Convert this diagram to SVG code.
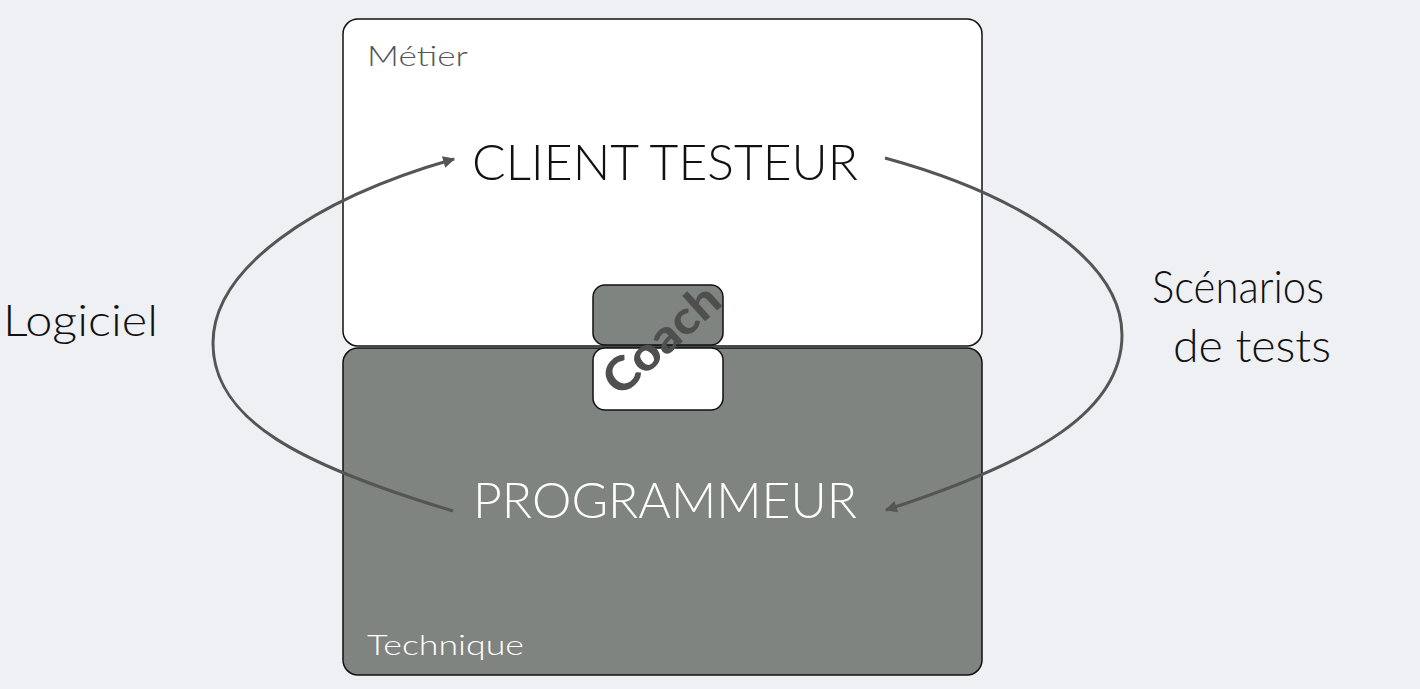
<svg xmlns="http://www.w3.org/2000/svg" width="1420" height="689" viewBox="0 0 1420 689">
  <defs>
    <style>
      .box { stroke: #111; stroke-width: 1.5; }
      .white { fill: #ffffff; }
      .grey { fill: #7f8481; }
      .t { font-family: Lato, "Open Sans", "Liberation Sans", sans-serif; font-weight: 300; }
      .conn { fill: none; stroke: #555; stroke-width: 3; }
    </style>
    <marker id="ah" viewBox="0 0 10 10" refX="9" refY="5" markerWidth="5" markerHeight="4" orient="auto" markerUnits="strokeWidth">
      <path d="M0,0 L10,5 L0,10 z" fill="#555"/>
    </marker>
  </defs>
  <rect width="1420" height="689" fill="#eef0f3"/>

  <g id="metier">
    <rect class="box white" x="343" y="19" width="639" height="327" rx="15"/>
    <text class="t" x="367" y="66" font-size="28" fill="#555" textLength="101" lengthAdjust="spacingAndGlyphs">Métier</text>
  </g>
  <g id="technique">
    <rect class="box grey" x="343" y="348" width="639" height="327" rx="15"/>
    <text class="t" x="367" y="655" font-size="28" fill="#fff" textLength="157" lengthAdjust="spacingAndGlyphs">Technique</text>
  </g>
  <g id="client">
    <text class="t" x="472" y="180" font-size="49" fill="#111" textLength="386" lengthAdjust="spacingAndGlyphs">CLIENT TESTEUR</text>
  </g>
  <g id="programmeur">
    <text class="t" x="473" y="518" font-size="49" fill="#fff" textLength="384" lengthAdjust="spacingAndGlyphs">PROGRAMMEUR</text>
  </g>
  <g id="coach">
    <rect class="box grey" x="593" y="285" width="130" height="60" rx="12"/>
    <rect class="box white" x="593" y="348" width="130" height="62" rx="12"/>
    <text x="0" y="15" transform="translate(662,340) rotate(-42)" text-anchor="middle" font-family="Lato, 'Open Sans', 'Liberation Sans', sans-serif" font-weight="900" font-size="46" fill="#4f4f4f" textLength="140" lengthAdjust="spacingAndGlyphs">Coach</text>
  </g>
  <g id="logiciel">
    <text class="t" x="3" y="336" font-size="44" fill="#111" textLength="155" lengthAdjust="spacingAndGlyphs">Logiciel</text>
  </g>
  <g id="scenarios">
    <text class="t" x="1152" y="303" font-size="45" fill="#111" textLength="172" lengthAdjust="spacingAndGlyphs">Scénarios</text>
    <text class="t" x="1173" y="362" font-size="45" fill="#111" textLength="158" lengthAdjust="spacingAndGlyphs">de tests</text>
  </g>

  <g id="connectors">
    <path class="conn" marker-end="url(#ah)" d="M453,511 C300,465 213,420 213,343 C213,270 310,200 454,159"/>
    <path class="conn" marker-end="url(#ah)" d="M885,158 C1020,195 1122,260 1122,335 C1122,410 1040,460 886,510"/>
  </g>
</svg>
